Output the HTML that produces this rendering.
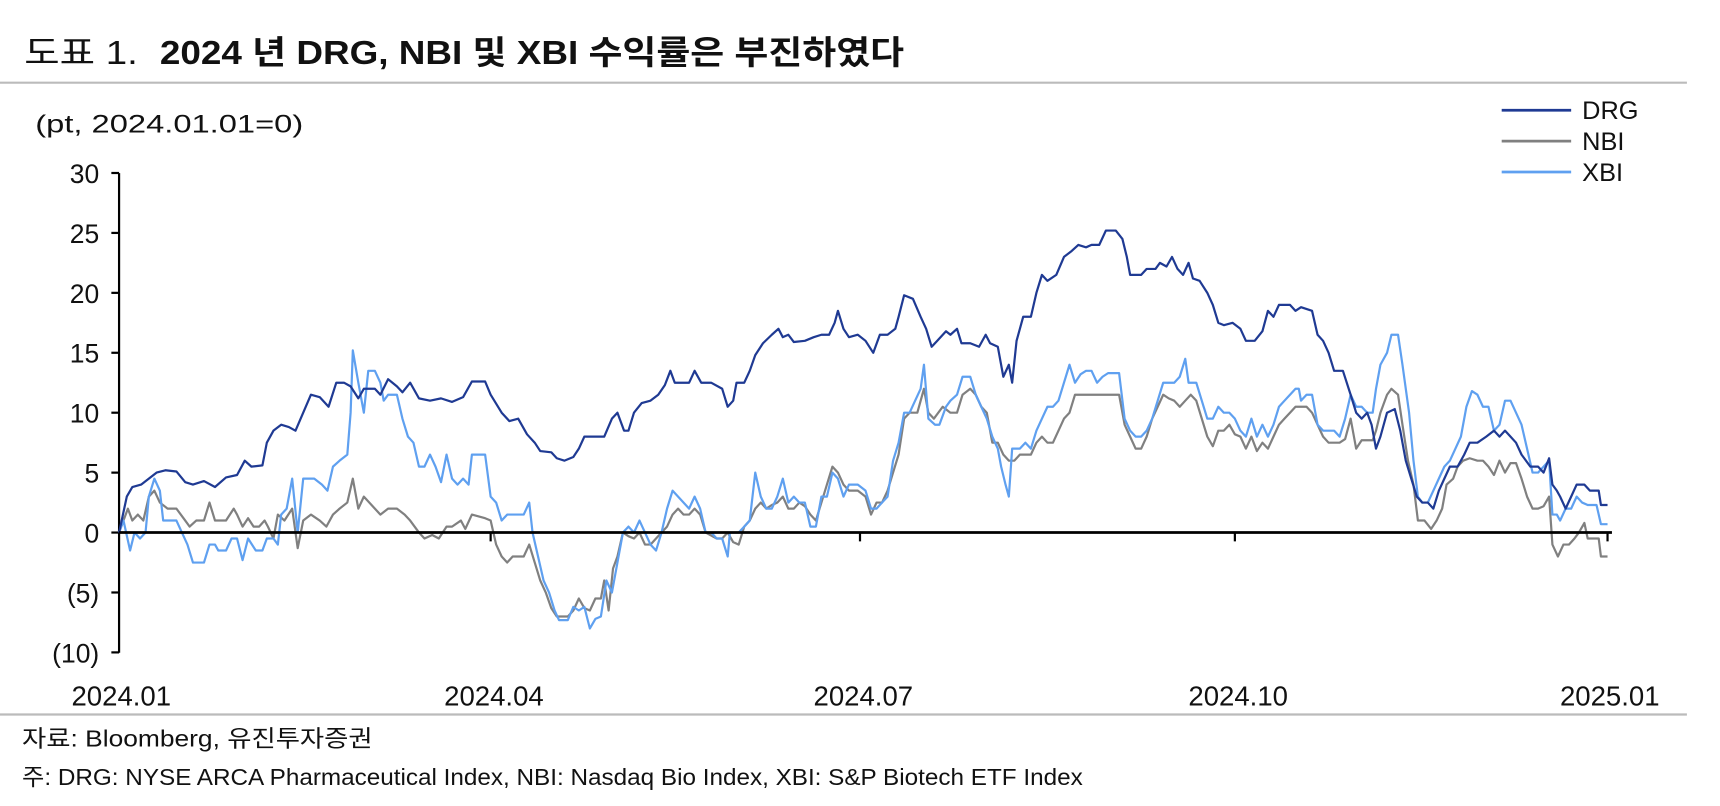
<!DOCTYPE html>
<html><head><meta charset="utf-8"><style>
html,body{margin:0;padding:0;background:#fff;}
svg{display:block;}
text{font-family:"Liberation Sans","Noto Sans CJK KR",sans-serif;fill:#111;}
</style></head><body>
<svg id="s" width="1720" height="806" viewBox="0 0 1560 731" preserveAspectRatio="none" xmlns="http://www.w3.org/2000/svg">
<text x="22" y="58" font-size="30" textLength="103" lengthAdjust="spacingAndGlyphs">도표 1.</text>
<text x="145" y="58" font-size="30" font-weight="bold" textLength="675" lengthAdjust="spacingAndGlyphs">2024 년 DRG, NBI 및 XBI 수익률은 부진하였다</text>
<line x1="0" y1="75" x2="1530" y2="75" stroke="#bbb" stroke-width="2"/>
<text x="32" y="120" font-size="23" textLength="243" lengthAdjust="spacingAndGlyphs">(pt, 2024.01.01=0)</text>
<g id="yl" font-size="24" text-anchor="end"></g>
<line x1="108" y1="157" x2="108" y2="592" stroke="#000" stroke-width="2"/>
<g id="g"></g>
<line x1="108" y1="483" x2="1462" y2="483" stroke="#000" stroke-width="2.5"/>
<g stroke="#000" stroke-width="2">
<line x1="445" y1="483" x2="445" y2="491"/><line x1="780" y1="483" x2="780" y2="491"/><line x1="1120" y1="483" x2="1120" y2="491"/><line x1="1458" y1="483" x2="1458" y2="491"/>
</g>
<g font-size="25" text-anchor="middle">
<text x="110" y="640">2024.01</text><text x="448" y="640">2024.04</text><text x="783" y="640">2024.07</text><text x="1123" y="640">2024.10</text><text x="1460" y="640">2025.01</text>
</g>
<line x1="0" y1="648" x2="1530" y2="648" stroke="#bbb" stroke-width="2"/>
<text x="20" y="677" font-size="21" textLength="318" lengthAdjust="spacingAndGlyphs">자료: Bloomberg, 유진투자증권</text>
<text x="20" y="712" font-size="21" textLength="962" lengthAdjust="spacingAndGlyphs">주: DRG: NYSE ARCA Pharmaceutical Index, NBI: Nasdaq Bio Index, XBI: S&amp;P Biotech ETF Index</text>
<g font-size="23">
<line x1="1362" y1="100" x2="1425" y2="100" stroke="#1f3a93" stroke-width="2.5"/><text x="1435" y="108">DRG</text>
<line x1="1362" y1="128" x2="1425" y2="128" stroke="#808080" stroke-width="2.5"/><text x="1435" y="136">NBI</text>
<line x1="1362" y1="156" x2="1425" y2="156" stroke="#5fa0f0" stroke-width="2.5"/><text x="1435" y="164">XBI</text>
</g>
</svg>
<script>
var NS="http://www.w3.org/2000/svg";
function Y(v){return 483-v*10.87;}
var yl=document.getElementById('yl');
[[30,'30'],[25,'25'],[20,'20'],[15,'15'],[10,'10'],[5,'5'],[0,'0'],[-5,'(5)'],[-10,'(10)']].forEach(function(a){
 var t=document.createElementNS(NS,'text');t.setAttribute('x',90);t.setAttribute('y',Y(a[0])+9);t.textContent=a[1];yl.appendChild(t);
 var l=document.createElementNS(NS,'line');l.setAttribute('x1',101);l.setAttribute('x2',108);l.setAttribute('y1',Y(a[0]));l.setAttribute('y2',Y(a[0]));l.setAttribute('stroke','#000');l.setAttribute('stroke-width',2);yl.appendChild(l);
});
var NBI=[108,0,112,1,116,2,120,1,125,1.5,130,1,135,3,140,3.5,145,2.5,152,2,160,2,168,1,172,0.5,178,1,185,1,190,2.5,195,1,205,1,212,2,215,1.5,220,0.5,225,1.2,230,0.5,235,0.5,240,1,243,0.5,248,-0.5,252,1.5,258,1,265,2,270,-1.3,275,1,282,1.5,290,1,296,0.5,302,1.5,308,2,315,2.5,320,4.5,325,2,330,3,335,2.5,340,2,345,1.5,352,2,360,2,367,1.5,372,1,380,0,385,-0.5,392,-0.2,398,-0.5,405,0.5,410,0.5,418,1,422,0.3,428,1.5,440,1.2,445,1,450,-1,455,-2,460,-2.5,465,-2,470,-2,475,-2,480,-1,485,-2.5,490,-4,495,-5,500,-6.3,505,-7,515,-7,520,-6.5,525,-5.5,530,-6.3,535,-6.5,540,-5.5,545,-5.5,548,-4,552,-6.5,556,-3,560,-2,565,0,570,-0.3,575,-0.5,580,0,585,-1,590,-1,595,-0.5,600,0,605,0.5,610,1.5,615,2,620,1.5,625,1.5,630,2,635,1.5,640,0,650,-0.5,655,-0.5,660,0,665,-0.8,670,-1,675,0.5,680,1,685,2,690,2.5,695,2,700,2.3,705,2.5,710,3,715,2,720,2,725,2.5,730,2.2,735,1.5,740,1,745,2.5,750,4,755,5.5,760,5,765,4,770,3.5,778,3.5,785,3,790,1.5,795,2.5,800,2.5,805,3.5,810,5,815,6.5,820,9.5,825,10,832,10,838,12,842,10,847,9.5,855,10.5,862,10,868,10,873,11.5,880,12,885,11.5,890,10.5,895,10,900,7.5,905,7.5,910,6.5,915,6,920,6,925,6.5,935,6.5,940,7.5,945,8,950,7.5,955,7.5,960,8.5,965,9.5,970,10,975,11.5,980,11.5,1010,11.5,1015,11.5,1020,9,1025,8,1030,7,1035,7,1040,8,1045,9.5,1050,10.5,1055,11.5,1060,11.2,1065,11,1070,10.5,1075,11,1080,11.5,1085,11,1090,9.5,1095,8,1100,7.2,1105,8.5,1110,8.5,1115,9,1120,8.2,1125,8,1130,7,1135,8,1140,6.8,1145,7.5,1150,7,1155,8,1160,9,1165,9.5,1170,10,1175,10.5,1180,10.5,1185,10.5,1190,10,1195,9,1200,8,1205,7.5,1215,7.5,1220,7.8,1225,9.5,1230,7,1235,7.7,1245,7.7,1248,8.5,1252,10,1258,11.5,1262,12,1268,11.5,1272,9,1277,6,1282,4,1286,1,1292,1,1298,0.3,1303,1,1308,2,1312,4,1318,4.5,1322,5.5,1327,6,1333,6.2,1340,6,1345,6,1350,5.5,1355,4.8,1360,6,1365,5,1370,5.8,1375,5.8,1380,4.5,1385,3,1390,2,1395,2,1400,2.2,1405,3,1408,-1,1413,-2,1418,-1,1423,-1,1428,-0.5,1432,0,1437,0.8,1440,-0.5,1445,-0.5,1450,-0.5,1452,-2,1458,-2];
var XBI=[108,0,112,1,118,-1.5,122,0,127,-0.5,132,0,135,3,140,4.5,145,3.5,148,1,155,1,160,1,165,0,170,-1,175,-2.5,185,-2.5,190,-1,195,-1,198,-1.5,205,-1.5,210,-0.5,215,-0.5,220,-2.3,225,-0.5,232,-1.5,238,-1.5,242,-0.5,248,-0.5,252,-1,255,1.5,260,2,265,4.5,270,0,275,4.5,285,4.5,292,4,297,3.5,302,5.5,308,6,315,6.5,318,10,320,15.2,325,12.5,330,10,334,13.5,340,13.5,345,12.5,348,11,352,11.5,360,11.5,365,9.5,370,8,375,7.5,380,5.5,385,5.5,390,6.5,395,5.5,400,4.2,405,6.5,410,4.5,415,4,420,4.5,425,4,428,6.5,440,6.5,445,3,450,2.5,455,1,460,1.5,465,1.5,470,1.5,475,1.5,480,2.5,483,0,488,-2,493,-4,498,-5,503,-6.5,507,-7.3,515,-7.3,520,-6.2,525,-6.5,530,-6.2,535,-8,540,-7.2,545,-7,550,-4,555,-5,560,-2.5,565,0,570,0.5,575,0,580,1,585,0,590,-1,595,-1.5,600,0,605,2,610,3.5,615,3,620,2.5,625,2,630,3,635,2,640,0,645,0,650,-0.5,655,-0.5,660,-2,662,0,670,0,675,0.5,680,1,685,5,690,3,695,2,700,2,705,3,710,4.5,715,2.5,720,3,725,2.5,730,2.5,735,0.5,740,0.5,745,3,750,3,755,5,760,4.5,765,3,770,4,778,4,785,3.5,790,2,795,2,800,2.5,805,3,810,6,815,7.5,820,10,825,10,830,11,835,12,838,14,842,9.5,848,9,852,9,858,10.5,862,11,868,11.5,873,13,880,13,885,11.5,890,10.5,895,9.5,900,8,905,7,908,5.5,912,4,915,3,918,7,925,7,930,7.5,935,7,940,8.5,945,9.5,950,10.5,955,10.5,960,11,965,12.5,970,14,975,12.5,980,13.2,985,13.5,990,13.5,995,12.5,1000,13,1005,13.3,1015,13.3,1020,9.5,1025,8.5,1030,8,1035,8,1040,8.5,1045,9.5,1050,11,1055,12.5,1060,12.5,1065,12.5,1070,13,1075,14.5,1078,12.5,1085,12.5,1090,11,1095,9.5,1100,9.5,1105,10.5,1110,10,1115,10,1120,9.5,1125,8.5,1130,8,1135,9.5,1140,8,1145,9,1150,8,1155,9,1160,10.5,1165,11,1170,11.5,1175,12,1178,12,1180,11,1185,11.5,1190,11.5,1195,9,1200,8.5,1205,8.5,1210,8.5,1215,8,1220,9.5,1225,11.5,1230,10.5,1235,10.5,1240,10,1245,10,1248,12,1252,14,1258,15,1262,16.5,1268,16.5,1272,14,1278,10,1282,6,1286,3,1290,2.5,1295,2.5,1300,3.5,1305,4.5,1310,5.5,1315,6,1320,7,1325,8,1330,10.5,1335,11.8,1340,11.5,1345,10.5,1350,10.5,1355,8.5,1360,9,1365,11,1370,11,1375,10,1380,9,1385,7,1390,5,1395,5,1400,5.5,1405,6,1408,1.5,1412,1.5,1415,1,1420,2,1425,2,1430,3,1435,2.5,1440,2.3,1448,2.3,1452,0.7,1458,0.7];
var DRG=[108,0,115,3,120,3.8,128,4,135,4.5,142,5,150,5.2,160,5.1,168,4.2,175,4,185,4.3,195,3.8,205,4.6,215,4.8,222,6,228,5.5,238,5.6,242,7.5,248,8.5,255,9,262,8.8,268,8.5,275,10,282,11.5,290,11.3,298,10.5,305,12.5,312,12.5,318,12.2,325,11.2,330,12,340,12,345,11.5,352,12.8,360,12.2,365,11.7,372,12.5,380,11.2,390,11,400,11.2,410,10.9,420,11.3,428,12.6,440,12.6,445,11.5,455,10,462,9.3,470,9.5,478,8.2,485,7.5,490,6.8,500,6.7,505,6.2,512,6,520,6.3,525,7,530,8,540,8,548,8,555,9.5,560,10,566,8.5,570,8.5,575,10,582,10.8,590,11,597,11.5,603,12.3,608,13.5,612,12.5,625,12.5,630,13.5,636,12.5,645,12.5,655,12,660,10.5,665,11,668,12.5,675,12.5,680,13.5,685,14.8,692,15.8,700,16.5,706,17,710,16.3,715,16.5,720,15.9,730,16,738,16.3,745,16.5,752,16.5,757,17.5,760,18.5,765,17,770,16.3,778,16.5,785,16,792,15,798,16.5,805,16.5,812,17,815,18,820,19.8,828,19.5,835,18,840,17,845,15.5,850,16,858,16.8,862,16.5,868,17,872,15.8,880,15.8,888,15.5,894,16.5,898,15.8,905,15.5,910,13,915,14,918,12.5,922,16,928,18,935,18,940,20,945,21.5,950,21,958,21.5,965,23,972,23.5,978,24,985,23.8,990,24,997,24,1003,25.2,1012,25.2,1018,24.5,1022,23,1025,21.5,1035,21.5,1040,22,1048,22,1052,22.5,1058,22.2,1063,23,1068,22,1073,21.5,1078,22.5,1082,21.2,1088,21,1095,20,1100,19,1105,17.5,1110,17.3,1118,17.5,1125,17,1130,16,1138,16,1145,16.8,1150,18.5,1155,18,1160,19,1170,19,1175,18.5,1180,18.8,1190,18.5,1195,16.5,1200,16,1205,15,1210,13.5,1218,13.5,1225,11.5,1230,10,1235,9.5,1240,10,1244,9,1248,7,1252,8,1258,10,1265,10.3,1270,8.5,1275,6,1280,4.5,1285,3,1290,2.5,1295,2.5,1300,2,1305,3.5,1310,4.5,1315,5.5,1322,5.5,1328,6.5,1333,7.5,1340,7.5,1348,8,1355,8.5,1360,8,1365,8.5,1370,8,1375,7.5,1380,6.5,1388,5.5,1395,5.5,1400,5,1405,6.2,1408,4,1412,3.5,1415,3,1420,2,1425,3,1430,4,1437,4,1442,3.5,1450,3.5,1452,2.3,1458,2.3];
var g=document.getElementById('g');
[[NBI,'#808080'],[XBI,'#5fa0f0'],[DRG,'#1f3a93']].forEach(function(s){
 var d=s[0],p=[];for(var i=0;i<d.length;i+=2)p.push(d[i]+','+Y(d[i+1]).toFixed(1));
 var pl=document.createElementNS(NS,'polyline');pl.setAttribute('points',p.join(' '));pl.setAttribute('fill','none');pl.setAttribute('stroke',s[1]);pl.setAttribute('stroke-width',2);pl.setAttribute('stroke-linejoin','round');g.appendChild(pl);
});
</script>
</body></html>
